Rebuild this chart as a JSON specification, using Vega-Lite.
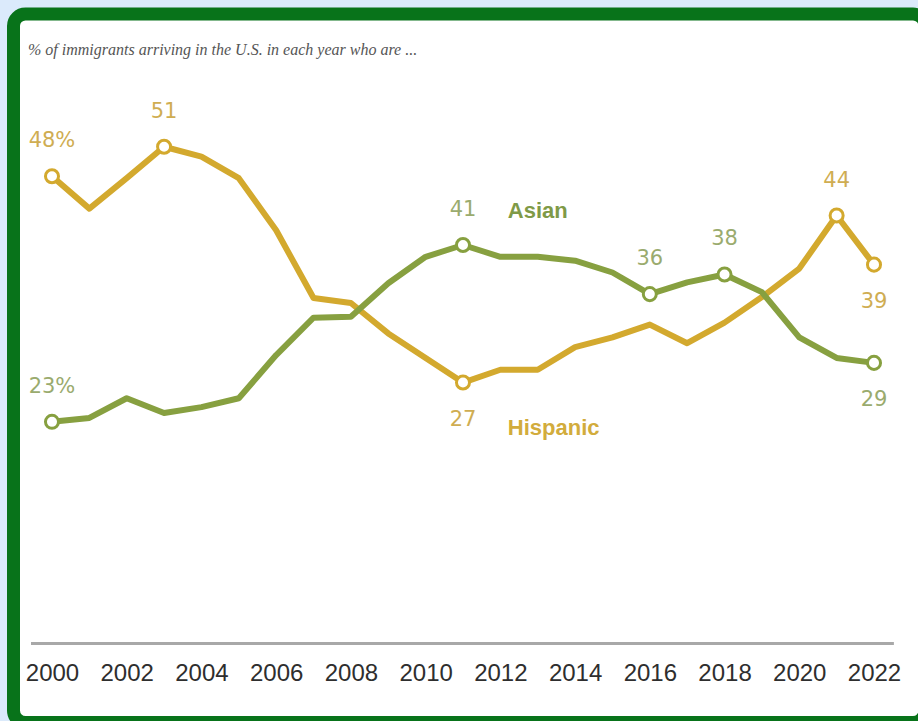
{
  "$schema": "https://vega.github.io/schema/vega-lite/v6.json",
  "width": 911.5,
  "height": 708.5,
  "autosize": {"type": "none"},
  "padding": {"left": 13.5, "top": 14, "right": -7, "bottom": -1.5},
  "background": "#dbeafb",
  "config": {"view": {"fill": "white", "stroke": "#08731a", "strokeWidth": 13, "cornerRadius": 12}},
  "title": {
    "text": "% of immigrants arriving in the U.S. in each year who are ...",
    "anchor": "start", "frame": "group", "orient": "top",
    "font": "Liberation Serif", "fontStyle": "italic", "fontWeight": "normal", "fontSize": 16,
    "color": "#555555", "baseline": "alphabetic", "offset": 0, "dx": 14.5, "dy": 57
  },
  "data": {"values": [
    {"year": 2000, "group": "Hispanic", "pct": 48, "label": "48%", "side": "above"},
    {"year": 2001, "group": "Hispanic", "pct": 44.7},
    {"year": 2002, "group": "Hispanic", "pct": 47.8},
    {"year": 2003, "group": "Hispanic", "pct": 51, "label": "51", "side": "above"},
    {"year": 2004, "group": "Hispanic", "pct": 50.0},
    {"year": 2005, "group": "Hispanic", "pct": 47.8},
    {"year": 2006, "group": "Hispanic", "pct": 42.5},
    {"year": 2007, "group": "Hispanic", "pct": 35.6},
    {"year": 2008, "group": "Hispanic", "pct": 35.1},
    {"year": 2009, "group": "Hispanic", "pct": 32.0},
    {"year": 2010, "group": "Hispanic", "pct": 29.5},
    {"year": 2011, "group": "Hispanic", "pct": 27, "label": "27", "side": "below"},
    {"year": 2012, "group": "Hispanic", "pct": 28.3},
    {"year": 2013, "group": "Hispanic", "pct": 28.3},
    {"year": 2014, "group": "Hispanic", "pct": 30.6},
    {"year": 2015, "group": "Hispanic", "pct": 31.6},
    {"year": 2016, "group": "Hispanic", "pct": 32.9},
    {"year": 2017, "group": "Hispanic", "pct": 31.0},
    {"year": 2018, "group": "Hispanic", "pct": 33.1},
    {"year": 2019, "group": "Hispanic", "pct": 35.7},
    {"year": 2020, "group": "Hispanic", "pct": 38.6},
    {"year": 2021, "group": "Hispanic", "pct": 44, "label": "44", "side": "above"},
    {"year": 2022, "group": "Hispanic", "pct": 39, "label": "39", "side": "below"},
    {"year": 2000, "group": "Asian", "pct": 23, "label": "23%", "side": "above"},
    {"year": 2001, "group": "Asian", "pct": 23.4},
    {"year": 2002, "group": "Asian", "pct": 25.4},
    {"year": 2003, "group": "Asian", "pct": 23.9},
    {"year": 2004, "group": "Asian", "pct": 24.5},
    {"year": 2005, "group": "Asian", "pct": 25.4},
    {"year": 2006, "group": "Asian", "pct": 29.8},
    {"year": 2007, "group": "Asian", "pct": 33.6},
    {"year": 2008, "group": "Asian", "pct": 33.7},
    {"year": 2009, "group": "Asian", "pct": 37.1},
    {"year": 2010, "group": "Asian", "pct": 39.8},
    {"year": 2011, "group": "Asian", "pct": 41, "label": "41", "side": "above"},
    {"year": 2012, "group": "Asian", "pct": 39.8},
    {"year": 2013, "group": "Asian", "pct": 39.8},
    {"year": 2014, "group": "Asian", "pct": 39.4},
    {"year": 2015, "group": "Asian", "pct": 38.2},
    {"year": 2016, "group": "Asian", "pct": 36, "label": "36", "side": "above"},
    {"year": 2017, "group": "Asian", "pct": 37.2},
    {"year": 2018, "group": "Asian", "pct": 38, "label": "38", "side": "above"},
    {"year": 2019, "group": "Asian", "pct": 36.2},
    {"year": 2020, "group": "Asian", "pct": 31.6},
    {"year": 2021, "group": "Asian", "pct": 29.5},
    {"year": 2022, "group": "Asian", "pct": 29, "label": "29", "side": "below"}
  ]},
  "encoding": {
    "x": {
      "field": "year", "type": "quantitative",
      "scale": {"domain": [1998.970, 2023.365], "nice": false, "zero": false},
      "axis": {
        "values": [2000, 2002, 2004, 2006, 2008, 2010, 2012, 2014, 2016, 2018, 2020, 2022],
        "format": "d", "title": null, "domain": false, "ticks": false, "grid": false,
        "labelPadding": 0, "offset": -61.5, "labelFont": "Liberation Sans", "labelFontSize": 24,
        "labelColor": "#2e2e2e", "labelFlush": false, "labelOverlap": false
      }
    },
    "y": {
      "field": "pct", "type": "quantitative",
      "scale": {"domain": [-7.60, 64.51], "nice": false, "zero": false},
      "axis": null
    }
  },
  "layer": [
    {
      "mark": {"type": "rule", "color": "#a8a8a8", "strokeWidth": 3},
      "encoding": {
        "x": {"datum": 1999.46, "type": "quantitative"},
        "x2": {"datum": 2022.51},
        "y": {"datum": 0.44, "type": "quantitative"}
      }
    },
    {
      "mark": {"type": "line", "strokeWidth": 6, "strokeJoin": "round", "strokeCap": "round"},
      "encoding": {
        "color": {"field": "group", "type": "nominal",
          "scale": {"domain": ["Hispanic", "Asian"], "range": ["#d3a92e", "#87a040"]},
          "legend": null}
      }
    },
    {
      "transform": [{"filter": "datum.label != null"}],
      "mark": {"type": "point", "shape": "circle", "filled": true, "fill": "white", "strokeWidth": 3, "size": 170, "opacity": 1},
      "encoding": {
        "stroke": {"field": "group", "type": "nominal",
          "scale": {"domain": ["Hispanic", "Asian"], "range": ["#d3a92e", "#87a040"]},
          "legend": null}
      }
    },
    {
      "transform": [{"filter": "datum.side == 'above'"}],
      "mark": {"type": "text", "font": "DejaVu Sans", "fontSize": 21, "dy": -35, "baseline": "middle", "align": "center"},
      "encoding": {
        "text": {"field": "label"},
        "color": {"condition": {"test": "datum.group == 'Asian'", "value": "#9aab6e"}, "value": "#cfad52"}
      }
    },
    {
      "transform": [{"filter": "datum.side == 'below'"}],
      "mark": {"type": "text", "font": "DejaVu Sans", "fontSize": 21, "dy": 37, "baseline": "middle", "align": "center"},
      "encoding": {
        "text": {"field": "label"},
        "color": {"condition": {"test": "datum.group == 'Asian'", "value": "#9aab6e"}, "value": "#cfad52"}
      }
    },
    {
      "data": {"values": [
        {"name": "Asian", "year": 2012.2, "pct": 44.46},
        {"name": "Hispanic", "year": 2012.2, "pct": 22.37}
      ]},
      "mark": {"type": "text", "font": "Liberation Sans", "fontWeight": "bold", "fontSize": 22, "align": "left", "baseline": "middle"},
      "encoding": {
        "text": {"field": "name"},
        "color": {"condition": {"test": "datum.name == 'Asian'", "value": "#7f9a47"}, "value": "#d2ac3c"}
      }
    }
  ]
}
